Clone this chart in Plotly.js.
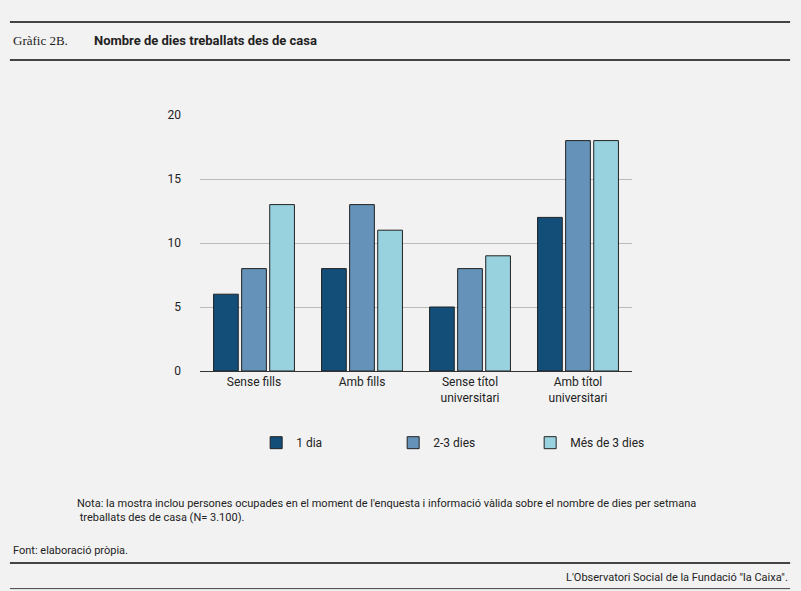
<!DOCTYPE html>
<html><head><meta charset="utf-8">
<script src="https://cdn.plot.ly/plotly-3.0.1.min.js"></script>
<style>body{margin:0;background:#f2f2f2}</style>
</head><body>
<div id="plotDiv" style="width:801px;height:591px"></div>
<script>
var categories = ["Sense fills", "Amb fills", "Sense títol<br>universitari", "Amb títol<br>universitari"];
var seriesNames = ["1 dia", "2-3 dies", "Més de 3 dies"];
var dia1 = [6, 8, 5, 12];
var dies23 = [8, 13, 8, 18];
var mes3 = [13, 11, 9, 18];
var colors = ["#124e78", "#6492b8", "#98d2df"];

var data = [dia1, dies23, mes3].map(function (v, i) {
  return {
    type: "bar", x: categories, y: v, name: seriesNames[i],
    marker: { color: colors[i], line: { color: "#222", width: 1 } }
  };
});

var line = function (y, w) {
  return { type: "line", xref: "paper", yref: "paper", x0: -0.44, x1: 1.366, y0: y, y1: y, line: { color: "#444", width: w } };
};

var layout = {
  width: 801, height: 591,
  paper_bgcolor: "#f2f2f2", plot_bgcolor: "#f2f2f2",
  font: { family: "Roboto, Arial", size: 12, color: "#222" },
  margin: { l: 200, r: 169, t: 115, b: 220 },
  bargap: 0.22, bargroupgap: 0.12,
  xaxis: { showline: true, linecolor: "#333", tickfont: { size: 12 } },
  yaxis: { range: [0, 20], dtick: 5, gridcolor: "#bbb", zeroline: false, ticks: "", ticklabelstandoff: 18 },
  showlegend: true,
  legend: { orientation: "h", x: 0.13, y: -0.28, xanchor: "left", yanchor: "middle", traceorder: "normal",
    font: { size: 12 }, itemwidth: 30, entrywidth: 92 },
  shapes: [line(1.363, 2), line(1.215, 2), line(-0.75, 2), line(-0.85, 1)],
  annotations: [
    { xref: "paper", yref: "paper", x: -0.437, y: 1.29, xanchor: "left", yanchor: "middle", showarrow: false, text: "Gràfic 2B.", font: { family: "Liberation Serif, serif", size: 13 } },
    { xref: "paper", yref: "paper", x: -0.25, y: 1.29, xanchor: "left", yanchor: "middle", showarrow: false, text: "<b>Nombre de dies treballats des de casa</b>", font: { size: 13 } },
    { xref: "paper", yref: "paper", x: -0.29, y: -0.545, xanchor: "left", yanchor: "middle", align: "left", showarrow: false, font: { size: 11 },
      text: "Nota: la mostra inclou persones ocupades en el moment de l'enquesta i informació vàlida sobre el nombre de dies per setmana<br> treballats des de casa (N= 3.100)." },
    { xref: "paper", yref: "paper", x: -0.437, y: -0.703, xanchor: "left", yanchor: "middle", showarrow: false, font: { size: 11 }, text: "Font: elaboració pròpia." },
    { xref: "paper", yref: "paper", x: 1.366, y: -0.805, xanchor: "right", yanchor: "middle", showarrow: false, font: { size: 11 }, text: "L'Observatori Social de la Fundació \"la Caixa\"." }
  ]
};
Plotly.newPlot("plotDiv", data, layout, { displayModeBar: false });
</script>
</body></html>
